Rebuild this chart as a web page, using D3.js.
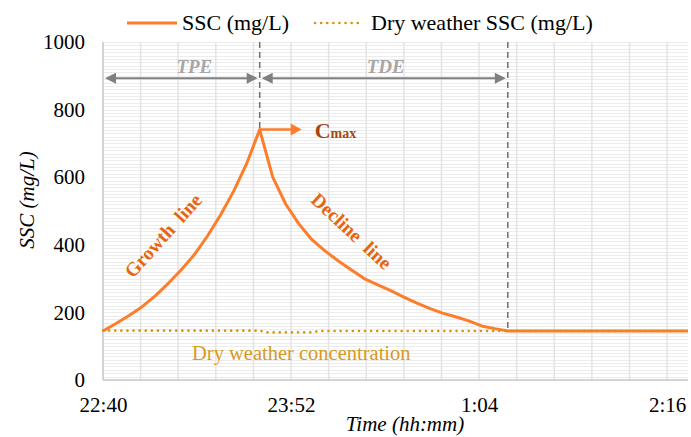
<!DOCTYPE html>
<html>
<head>
<meta charset="utf-8">
<script src="https://cdn.jsdelivr.net/npm/d3@7"></script>
<style>
  body { margin: 0; background: #fff; }
  text { font-family: "Liberation Serif", "Times New Roman", serif; }
</style>
</head>
<body>
<div id="chart"></div>
<script>
// values
const sscTimes = ["22:40","22:45","22:50","22:55","23:00","23:05","23:10","23:15","23:20","23:25","23:30","23:35",
    "23:40","23:45","23:50","23:55","0:00","0:05","0:10","0:15","0:20","0:25","0:30","0:35","0:40","0:45",
    "0:50","0:55","1:00","1:05","1:10","1:15","1:30","1:45","2:00","2:15","2:24"]
const sscValues = [145,167,191,217,249,286,326,371,426,488,558,640,
    741,600,520,462,415,382,353,326,300,282,265,246,228,212,
    198,187,175,160,152,145,145,145,145,145,145]

const dryTimes = ["22:40","23:40","23:43","0:00","0:03","1:15","2:24"]
const dryValues = [146,146,141,141,145,145,145]

const xTickLabels = ["22:40","23:52","1:04","2:16"]
const yTickValues = [0,200,400,600,800,1000]
const legendLabels = ["SSC (mg/L)", "Dry weather SSC (mg/L)"]

const peakTime = "23:40"
const peakValue = 741
const endTime = "1:15"
const endValue = 145

// 1. Accessors
const parseHM = d3.timeParse('%H:%M')
const toDate = s => {
    const d = parseHM(s)
    if (d.getHours() < 12) d.setDate(d.getDate() + 1)
    return d
}
const ssc = sscTimes.map((t, i) => ({ date: toDate(t), value: sscValues[i] }))
const dry = dryTimes.map((t, i) => ({ date: toDate(t), value: dryValues[i] }))

// 2. Dimensions
let dimensions = {
    width: 691,
    height: 437,
    margin: { top: 42, right: 3, bottom: 57, left: 103 }
}
dimensions.boundedWidth = dimensions.width - dimensions.margin.left - dimensions.margin.right
dimensions.boundedHeight = dimensions.height - dimensions.margin.top - dimensions.margin.bottom

const serif = '"Liberation Serif", "Times New Roman", serif'

// 3. Canvas
const wrapper = d3.select('#chart')
    .append('svg')
    .attr('width', dimensions.width)
    .attr('height', dimensions.height)

const bounds = wrapper.append('g')
    .attr('transform', `translate(${dimensions.margin.left},${dimensions.margin.top})`)

// 4. Scales
const xScale = d3.scaleTime()
    .domain([toDate("22:40"), toDate("2:24")])
    .range([0, dimensions.boundedWidth])

const yScale = d3.scaleLinear()
    .domain([0, 1000])
    .range([dimensions.boundedHeight, 0])

// gridlines
const minorStep = 14.4 * 60 * 1000
const xGrid = d3.range(xScale.domain()[0].getTime() + minorStep, xScale.domain()[1].getTime() + 1, minorStep)
bounds.append('g')
    .selectAll('line')
    .data(d3.range(10, 1001, 10))
    .join('line')
    .attr('x1', 0)
    .attr('x2', dimensions.boundedWidth)
    .attr('y1', d => Math.round(yScale(d)) + 0.5)
    .attr('y2', d => Math.round(yScale(d)) + 0.5)
    .attr('stroke', '#ececec')
bounds.append('g')
    .selectAll('line')
    .data(xGrid)
    .join('line')
    .attr('x1', d => xScale(d))
    .attr('x2', d => xScale(d))
    .attr('y1', 0)
    .attr('y2', dimensions.boundedHeight)
    .attr('stroke', '#e4e4e4')
    .attr('stroke-width', 1.5)

// axis lines
bounds.append('line')
    .attr('x1', 0).attr('x2', 0)
    .attr('y1', 0).attr('y2', dimensions.boundedHeight)
    .attr('stroke', '#c6c6c6').attr('stroke-width', 1.5)
bounds.append('line')
    .attr('x1', 0).attr('x2', dimensions.boundedWidth)
    .attr('y1', dimensions.boundedHeight).attr('y2', dimensions.boundedHeight)
    .attr('stroke', '#c6c6c6').attr('stroke-width', 1.5)

// 5. Data
const lineGenerator = d3.line()
    .x(d => xScale(d.date))
    .y(d => yScale(d.value))

// dashed guides
const guide = (t, v) => bounds.append('line')
    .attr('x1', xScale(toDate(t))).attr('x2', xScale(toDate(t)))
    .attr('y1', 0).attr('y2', yScale(v))
    .attr('stroke', '#6f6f6f').attr('stroke-width', 1.5)
    .attr('stroke-dasharray', '6,4')
guide(peakTime, peakValue)
guide(endTime, endValue)

bounds.append('path')
    .attr('d', lineGenerator(ssc))
    .attr('fill', 'none')
    .attr('stroke', '#fd7d2b')
    .attr('stroke-width', 3)
    .attr('stroke-linejoin', 'round')

bounds.append('path')
    .attr('d', lineGenerator(dry))
    .attr('fill', 'none')
    .attr('stroke', '#d6950f')
    .attr('stroke-width', 2.6)
    .attr('stroke-linecap', 'round')
    .attr('stroke-dasharray', '0.1,6')

// 6. Peripherals
const yAxis = bounds.append('g')
    .call(d3.axisLeft(yScale).tickValues(yTickValues).tickFormat(d3.format('d')).tickSize(0).tickPadding(18))
yAxis.select('.domain').remove()
yAxis.selectAll('text')
    .attr('font-size', 21)
    .style('font-family', serif)
    .attr('fill', '#000')

const xAxis = bounds.append('g')
    .attr('transform', `translate(0,${dimensions.boundedHeight})`)
    .call(d3.axisBottom(xScale)
        .tickValues(xTickLabels.map(toDate))
        .tickFormat(d3.timeFormat('%-H:%M'))
        .tickSize(0).tickPadding(17))
xAxis.select('.domain').remove()
xAxis.selectAll('text')
    .attr('font-size', 21)
    .style('font-family', serif)
    .attr('fill', '#000')

wrapper.append('text')
    .attr('transform', `translate(34,200) rotate(-90)`)
    .attr('text-anchor', 'middle')
    .attr('font-size', 21)
    .attr('font-style', 'italic')
    .text('SSC (mg/L)')

wrapper.append('text')
    .attr('x', 405).attr('y', 431)
    .attr('text-anchor', 'middle')
    .attr('font-size', 21)
    .attr('font-style', 'italic')
    .text('Time (hh:mm)')

// arrows
const arrowHead = (x, y, dir, color, len, half) => bounds.append('path')
    .attr('d', `M${x},${y} L${x - dir * len},${y - half} L${x - dir * len},${y + half} Z`)
    .attr('fill', color)

const arrowY = yScale(893)
const xStart = xScale(toDate("22:40")) + 2
const xPeak = xScale(toDate(peakTime))
const xEnd = xScale(toDate(endTime))

const spanArrow = (x1, x2) => {
    bounds.append('line')
        .attr('x1', x1 + 8).attr('x2', x2 - 8)
        .attr('y1', arrowY).attr('y2', arrowY)
        .attr('stroke', '#808080').attr('stroke-width', 2)
    arrowHead(x1, arrowY, -1, '#808080', 11, 5.5)
    arrowHead(x2, arrowY, 1, '#808080', 11, 5.5)
}
spanArrow(xStart, xPeak - 2)
spanArrow(xPeak + 2, xEnd - 2)

bounds.append('text')
    .attr('x', (xStart + xPeak) / 2 + 12).attr('y', arrowY - 5)
    .attr('text-anchor', 'middle')
    .attr('font-size', 19).attr('font-weight', 'bold').attr('font-style', 'italic')
    .attr('fill', '#a6a6a6')
    .text('TPE')
bounds.append('text')
    .attr('x', (xPeak + xEnd) / 2 + 2).attr('y', arrowY - 5)
    .attr('text-anchor', 'middle')
    .attr('font-size', 19).attr('font-weight', 'bold').attr('font-style', 'italic')
    .attr('fill', '#a6a6a6')
    .text('TDE')

// Cmax
const peakY = yScale(peakValue)
bounds.append('line')
    .attr('x1', xPeak).attr('x2', xPeak + 32)
    .attr('y1', peakY).attr('y2', peakY)
    .attr('stroke', '#fd7d2b').attr('stroke-width', 2.5)
arrowHead(xPeak + 42, peakY, 1, '#fd7d2b', 11, 6)
const cmax = bounds.append('text')
    .attr('x', xPeak + 55).attr('y', peakY + 8)
    .attr('font-weight', 'bold')
    .attr('fill', '#a6470f')
cmax.append('tspan').attr('font-size', 22).text('C')
cmax.append('tspan').attr('font-size', 14).text('max')

// curve labels
wrapper.append('text')
    .attr('transform', 'translate(168,240) rotate(-48)')
    .attr('text-anchor', 'middle')
    .attr('font-size', 19.5).attr('font-weight', 'bold')
    .attr('fill', '#e8650f')
    .style('white-space', 'pre')
    .text('Growth  line')

wrapper.append('text')
    .attr('transform', 'translate(347,236) rotate(43)')
    .attr('text-anchor', 'middle')
    .attr('font-size', 19.5).attr('font-weight', 'bold')
    .attr('fill', '#e8650f')
    .style('white-space', 'pre')
    .text('Decline  line')

wrapper.append('text')
    .attr('x', 192).attr('y', 360)
    .attr('font-size', 20.5)
    .attr('fill', '#d69a1c')
    .text('Dry weather concentration')

// legend
const legend = wrapper.append('g')
legend.append('line')
    .attr('x1', 127).attr('x2', 177).attr('y1', 23).attr('y2', 23)
    .attr('stroke', '#fd7d2b').attr('stroke-width', 3)
legend.append('text')
    .attr('x', 182).attr('y', 30)
    .attr('font-size', 22)
    .text(legendLabels[0])
legend.append('line')
    .attr('x1', 315).attr('x2', 362).attr('y1', 23).attr('y2', 23)
    .attr('stroke', '#d6950f').attr('stroke-width', 2.6)
    .attr('stroke-linecap', 'round')
    .attr('stroke-dasharray', '0.1,6')
legend.append('text')
    .attr('x', 371).attr('y', 30)
    .attr('font-size', 22)
    .text(legendLabels[1])
</script>
</body>
</html>
